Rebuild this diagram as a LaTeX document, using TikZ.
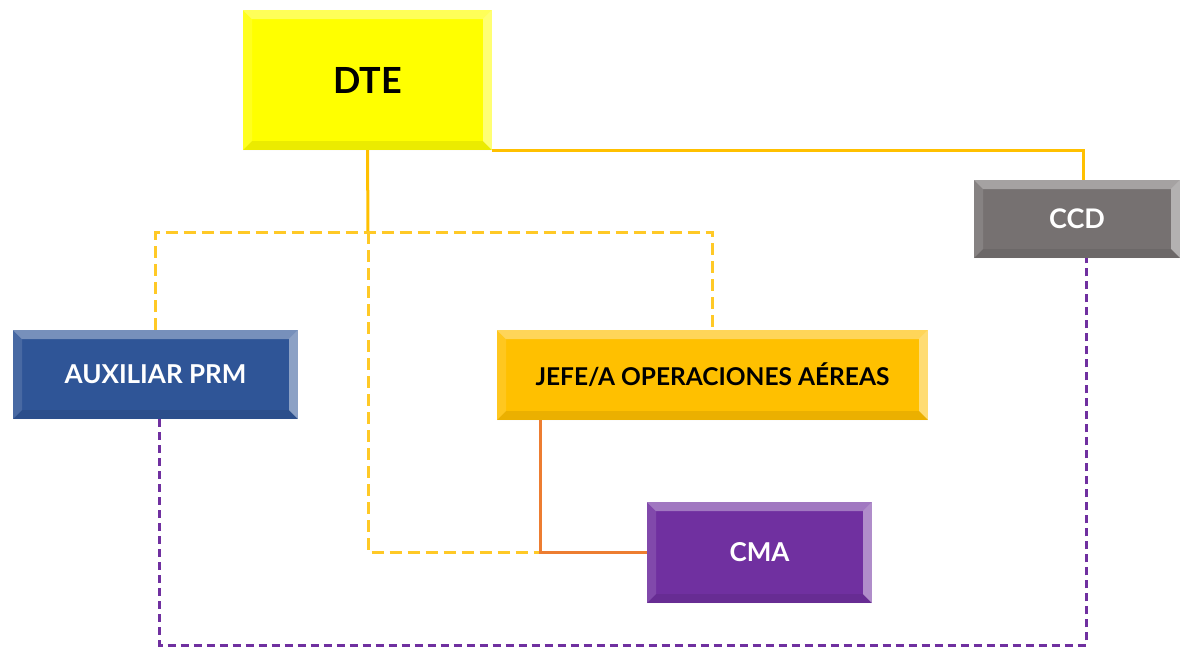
\documentclass[tikz,border=0pt]{standalone}
\usepackage{fontspec}
\setmainfont{Lato}
\usetikzlibrary{calc}

\definecolor{dteYellow}{HTML}{FFFF00}
\definecolor{ccdGray}{HTML}{767171}
\definecolor{prmBlue}{HTML}{2F5597}
\definecolor{opsGold}{HTML}{FFC000}
\definecolor{cmaPurple}{HTML}{7030A0}
\definecolor{linkOrange}{HTML}{ED7D31}

\begin{document}
\begin{tikzpicture}
  [x=1pt, y=-1pt,
    OrgNode/.style={rectangle, inner sep=0pt, font=\bfseries,
      path picture={
        \coordinate (nw) at (path picture bounding box.north west);
        \coordinate (ne) at (path picture bounding box.north east);
        \coordinate (sw) at (path picture bounding box.south west);
        \coordinate (se) at (path picture bounding box.south east);
        \coordinate (inw) at ($(nw)+(9pt,-9pt)$);
        \coordinate (ine) at ($(ne)+(-9pt,-9pt)$);
        \coordinate (isw) at ($(sw)+(9pt,9pt)$);
        \coordinate (ise) at ($(se)+(-9pt,9pt)$);
        \fill[white, opacity=.35] (nw) -- (ne) -- (ine) -- (inw) -- cycle;
        \fill[white, opacity=.12] (nw) -- (sw) -- (isw) -- (inw) -- cycle;
        \fill[white, opacity=.45] (ne) -- (se) -- (ise) -- (ine) -- cycle;
        \fill[black, opacity=.08] (sw) -- (se) -- (ise) -- (isw) -- cycle;
      }},
    SolidLink/.style={draw=opsGold, line width=3pt},
    DashLink/.style={draw=opsGold!85, line width=3pt, dash pattern=on 12pt off 6pt},
    SubLink/.style={draw=linkOrange, line width=2.5pt},
    PrmLink/.style={draw=cmaPurple, line width=3pt, dash pattern=on 8pt off 5pt}]
  \useasboundingbox (0,0) rectangle (1180,649);

  \coordinate (Branch) at (368,232);
  \coordinate (Bottom) at (0,645);

  \node [OrgNode, fill=dteYellow, minimum width=249pt, minimum height=140pt,
    font=\bfseries\fontsize{36}{40}\selectfont] (DTE) at (367.5,80) {DTE};
  \node [OrgNode, fill=ccdGray, text=white, minimum width=206pt, minimum height=78pt,
    font=\bfseries\fontsize{27}{32}\selectfont] (CCD) at (1077,219) {CCD};
  \node [OrgNode, fill=prmBlue, text=white, minimum width=285pt, minimum height=89pt,
    font=\bfseries\fontsize{26}{30}\selectfont] (AuxPRM) at (155.5,374.5) {AUXILIAR PRM};
  \node [OrgNode, fill=opsGold, minimum width=431pt, minimum height=90pt,
    font=\bfseries\fontsize{24.5}{28}\selectfont] (JefeOps) at (712.5,375) {JEFE/A OPERACIONES AÉREAS};
  \node [OrgNode, fill=cmaPurple, text=white, minimum width=225pt, minimum height=101pt,
    font=\bfseries\fontsize{26}{30}\selectfont] (CMA) at (759.5,552.5) {CMA};

  \draw [SolidLink] (DTE.south east) -| ([xshift=6pt]CCD.north);
  \draw [SolidLink] (DTE.south) -- (Branch);
  \draw [DashLink] (Branch) |- (CMA.west);
  \draw [DashLink] (AuxPRM.north) -- (AuxPRM.north |- Branch) -- (JefeOps.north |- Branch) -- (JefeOps.north);
  \draw [SubLink] ([xshift=-172pt]JefeOps.south) |- (CMA.west);
  \draw [PrmLink] ([xshift=4pt]AuxPRM.south) -- ([xshift=4pt]AuxPRM.south |- Bottom) -| ([xshift=9pt]CCD.south);
\end{tikzpicture}
\end{document}
